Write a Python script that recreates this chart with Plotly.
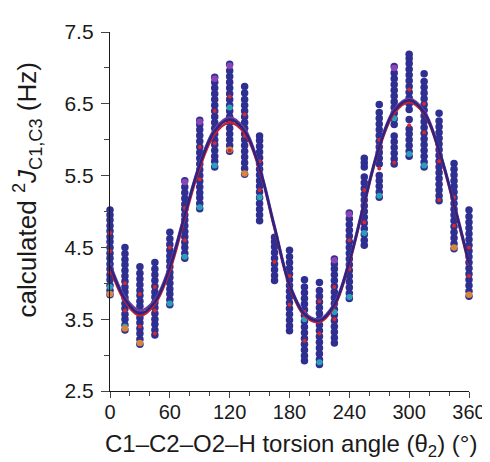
import plotly.graph_objects as go

angles = [0, 15, 30, 45, 60, 75, 90, 105, 120, 135, 150, 165, 180,
          195, 210, 225, 240, 255, 270, 285, 300, 315, 330, 345, 360]

# calculated couplings per torsion angle (navy points)
col_000 = [3.84, 3.9, 3.97, 4.05, 4.12, 4.2, 4.27, 4.35, 4.42, 4.5, 4.58, 4.65, 4.73, 4.8, 4.88, 4.95, 5.02]
col_015 = [3.35, 3.42, 3.5, 3.57, 3.65, 3.72, 3.8, 3.88, 3.95, 4.03, 4.1, 4.18, 4.26, 4.33, 4.41, 4.5]
col_030 = [3.15, 3.22, 3.3, 3.37, 3.45, 3.52, 3.6, 3.68, 3.75, 3.83, 3.9, 3.98, 4.06, 4.14, 4.23]
col_045 = [3.28, 3.35, 3.43, 3.5, 3.58, 3.66, 3.73, 3.81, 3.88, 3.96, 4.04, 4.12, 4.2, 4.29]
col_060 = [3.7, 3.77, 3.85, 3.92, 4.0, 4.08, 4.15, 4.23, 4.31, 4.38, 4.46, 4.54, 4.62, 4.71]
col_075 = [4.35, 4.42, 4.5, 4.57, 4.65, 4.72, 4.8, 4.88, 4.95, 5.03, 5.1, 5.18, 5.26, 5.34, 5.43]
col_090 = [5.04, 5.11, 5.19, 5.26, 5.34, 5.42, 5.5, 5.58, 5.66, 5.74, 5.82, 5.9, 5.98, 6.06, 6.14, 6.21, 6.27]
col_105 = [5.62, 5.7, 5.77, 5.85, 5.93, 6.0, 6.08, 6.16, 6.24, 6.32, 6.4, 6.48, 6.56, 6.64, 6.72, 6.8, 6.87]
col_120 = [5.84, 5.92, 6.0, 6.08, 6.16, 6.24, 6.32, 6.4, 6.48, 6.56, 6.64, 6.72, 6.8, 6.88, 6.96, 7.05]
col_135 = [5.52, 5.6, 5.68, 5.76, 5.84, 5.92, 6.0, 6.08, 6.16, 6.24, 6.32, 6.4, 6.48, 6.56, 6.65, 6.74]
col_150 = [4.87, 4.95, 5.03, 5.11, 5.19, 5.27, 5.35, 5.43, 5.51, 5.59, 5.67, 5.75, 5.83, 5.91, 5.99, 6.05]
col_165 = [4.04, 4.11, 4.19, 4.27, 4.35, 4.43, 4.51, 4.58, 4.64]
col_180 = [3.34, 3.41, 3.49, 3.57, 3.65, 3.73, 3.81, 3.89, 3.97, 4.05, 4.13, 4.21, 4.29, 4.37, 4.46]
col_195 = [2.92, 2.99, 3.07, 3.15, 3.23, 3.31, 3.39, 3.47, 3.55, 3.63, 3.71, 3.79, 3.87, 3.95, 4.05]
col_210 = [2.87, 2.94, 3.02, 3.1, 3.18, 3.26, 3.34, 3.42, 3.5, 3.58, 3.66, 3.74, 3.82, 3.9, 4.01]
col_225 = [3.17, 3.24, 3.32, 3.4, 3.48, 3.56, 3.64, 3.72, 3.8, 3.88, 3.96, 4.04, 4.12, 4.2, 4.27, 4.34]
col_240 = [3.79, 3.86, 3.94, 4.02, 4.1, 4.18, 4.26, 4.34, 4.42, 4.5, 4.58, 4.66, 4.74, 4.82, 4.9, 4.98]
col_255 = [4.53, 4.6, 4.68, 4.76, 4.84, 4.92, 5.0, 5.08, 5.16, 5.24, 5.32, 5.4, 5.48, 5.62, 5.68, 5.74]
col_270 = [5.2, 5.27, 5.35, 5.43, 5.5, 5.66, 5.74, 5.82, 5.9, 5.98, 6.06, 6.14, 6.22, 6.3, 6.38, 6.49]
col_285 = [5.66, 5.73, 5.81, 5.89, 5.97, 6.05, 6.21, 6.29, 6.37, 6.45, 6.53, 6.61, 6.69, 6.77, 6.85, 6.93, 7.02]
col_300 = [5.77, 5.84, 5.92, 6.0, 6.08, 6.15, 6.28, 6.42, 6.5, 6.58, 6.66, 6.74, 6.82, 6.9, 6.98, 7.06, 7.13, 7.19]
col_315 = [5.62, 5.69, 5.77, 5.85, 5.93, 6.01, 6.09, 6.17, 6.25, 6.33, 6.41, 6.49, 6.57, 6.65, 6.73, 6.81, 6.92]
col_330 = [5.15, 5.22, 5.3, 5.38, 5.46, 5.54, 5.62, 5.7, 5.78, 5.86, 5.94, 6.02, 6.1, 6.18, 6.26, 6.37]
col_345 = [4.48, 4.55, 4.63, 4.71, 4.79, 4.87, 4.95, 5.03, 5.11, 5.19, 5.27, 5.35, 5.43, 5.51, 5.59, 5.67]
col_360 = [3.82, 3.89, 3.97, 4.05, 4.13, 4.21, 4.29, 4.37, 4.45, 4.53, 4.61, 4.69, 4.77, 4.85, 4.93, 5.02]

columns = [col_000, col_015, col_030, col_045, col_060, col_075, col_090, col_105,
           col_120, col_135, col_150, col_165, col_180, col_195, col_210, col_225,
           col_240, col_255, col_270, col_285, col_300, col_315, col_330, col_345, col_360]

# accent-coloured points (angle, value)
red_x = [0, 0, 0, 15, 15, 30, 30, 45, 45, 45, 60, 60, 75, 75, 90, 90, 105, 105, 120, 120, 120,
         135, 135, 150, 150, 165, 180, 180, 195, 195, 210, 210, 225, 225, 240, 240, 255, 255,
         270, 270, 285, 285, 300, 300, 315, 315, 330, 330, 345, 345, 360, 360]
red_y = [4.15, 4.45, 4.7, 3.62, 4.0, 3.4, 3.85, 3.3, 3.62, 3.95, 4.2, 4.5, 4.6, 5.05, 5.45, 5.9, 5.95, 6.4,
         5.85, 6.26, 6.6, 6.05, 6.35, 5.3, 5.7, 4.3, 3.7, 4.1, 3.2, 3.6, 3.3, 3.75, 3.5, 3.95,
         4.2, 4.6, 4.85, 5.3, 5.6, 6.0, 5.68, 6.4, 6.2, 6.7, 6.1, 6.5, 5.16, 5.7, 4.8, 5.2, 4.1, 4.5]
orange_x = [0, 15, 30, 135, 345, 360, 120]
orange_y = [3.85, 3.37, 3.17, 5.53, 4.5, 3.84, 5.86]
cyan_x = [0, 15, 60, 75, 90, 105, 150, 195, 210, 225, 240, 255, 270, 300, 315, 120, 285]
cyan_y = [3.95, 3.4, 3.72, 4.37, 5.06, 5.64, 5.2, 3.5, 2.9, 3.6, 3.81, 4.7, 5.22, 5.8, 5.64, 6.45, 6.3]
purple_x = [75, 90, 105, 225, 240, 120, 285]
purple_y = [5.41, 6.25, 6.85, 4.32, 4.96, 7.03, 7.0]

# fitted curves read at 15 degree steps
fit_navy = [4.25, 3.78, 3.58, 3.74, 4.22, 4.95, 5.65, 6.12, 6.28, 6.12, 5.6, 4.78, 3.98,
            3.57, 3.48, 3.7, 4.3, 5.12, 5.9, 6.4, 6.55, 6.38, 5.85, 5.1, 4.28]
fit_red = [4.22, 3.75, 3.55, 3.71, 4.18, 4.91, 5.61, 6.08, 6.24, 6.09, 5.58, 4.76, 3.96,
           3.55, 3.46, 3.68, 4.28, 5.1, 5.88, 6.37, 6.52, 6.36, 5.83, 5.08, 4.25]
fit_purple = [4.28, 3.81, 3.62, 3.77, 4.25, 4.97, 5.67, 6.15, 6.31, 6.15, 5.62, 4.8, 4.0,
              3.59, 3.5, 3.72, 4.32, 5.14, 5.92, 6.42, 6.57, 6.4, 5.87, 5.12, 4.3]

xs, ys = [], []
for a, col in zip(angles, columns):
    for v in col:
        xs.append(a)
        ys.append(v)

fig = go.Figure()
fig.add_trace(go.Scatter(x=xs, y=ys, mode="markers", cliponaxis=False,
                         marker=dict(size=7.5, color="#2f2f92", line=dict(width=0))))
fig.add_trace(go.Scatter(x=cyan_x, y=cyan_y, mode="markers", cliponaxis=False,
                         marker=dict(size=6, color="#2aa0b8", line=dict(width=0))))
fig.add_trace(go.Scatter(x=orange_x, y=orange_y, mode="markers", cliponaxis=False,
                         marker=dict(size=6.5, color="#d9853a", line=dict(width=0))))
fig.add_trace(go.Scatter(x=purple_x, y=purple_y, mode="markers", cliponaxis=False,
                         marker=dict(size=6.5, color="#8e44b4", line=dict(width=0))))
fig.add_trace(go.Scatter(x=red_x, y=red_y, mode="markers", cliponaxis=False,
                         marker=dict(size=4, color="#d42a2a", line=dict(width=0))))
fig.add_trace(go.Scatter(x=angles, y=fit_red, mode="lines", line_shape="spline",
                         line=dict(color="#c8202f", width=2.5)))
fig.add_trace(go.Scatter(x=angles, y=fit_purple, mode="lines", line_shape="spline",
                         line=dict(color="#6b3fa0", width=2.5)))
fig.add_trace(go.Scatter(x=angles, y=fit_navy, mode="lines", line_shape="spline",
                         line=dict(color="#2c2481", width=2.5)))

font_family = "Liberation Sans, Arial, sans-serif"
fig.update_layout(
    width=490, height=462,
    margin=dict(l=102, r=22, t=22, b=79),
    paper_bgcolor="white", plot_bgcolor="white",
    showlegend=False,
    font=dict(family=font_family, size=21, color="#1a1a1a"),
    xaxis=dict(range=[0, 360], tick0=0, dtick=60, ticks="outside", ticklen=6, tickwidth=1.3,
               showgrid=False, zeroline=False, showline=True, linecolor="#1a1a1a", linewidth=1.3,
               tickfont=dict(size=20), ticklabelstandoff=-3,
               minor=dict(dtick=20, tick0=0, ticks="outside", ticklen=4, tickwidth=1.2, showgrid=False)),
    yaxis=dict(range=[2.5, 7.5], tick0=2.5, dtick=1, ticks="outside", ticklen=8, tickwidth=1.3,
               showgrid=False, zeroline=False, showline=True, linecolor="#1a1a1a", linewidth=1.3,
               tickfont=dict(size=21), ticklabelstandoff=3,
               minor=dict(dtick=0.5, tick0=2.5, ticks="outside", ticklen=5, tickwidth=1.2, showgrid=False)),
    annotations=[
        dict(text="C1–C2–O2–H torsion angle (θ<sub>2</sub>) (°)", xref="paper", yref="paper",
             x=0.505, y=-0.152, xanchor="center", yanchor="middle", showarrow=False,
             font=dict(size=24)),
        dict(text="calculated <sup>2</sup><i>J</i><sub>C1,C3</sub> (Hz)", xref="paper", yref="paper",
             x=-0.23, y=0.56, xanchor="center", yanchor="middle", showarrow=False,
             textangle=-90, font=dict(size=26)),
    ],
)

fig.write_html("out.html")
